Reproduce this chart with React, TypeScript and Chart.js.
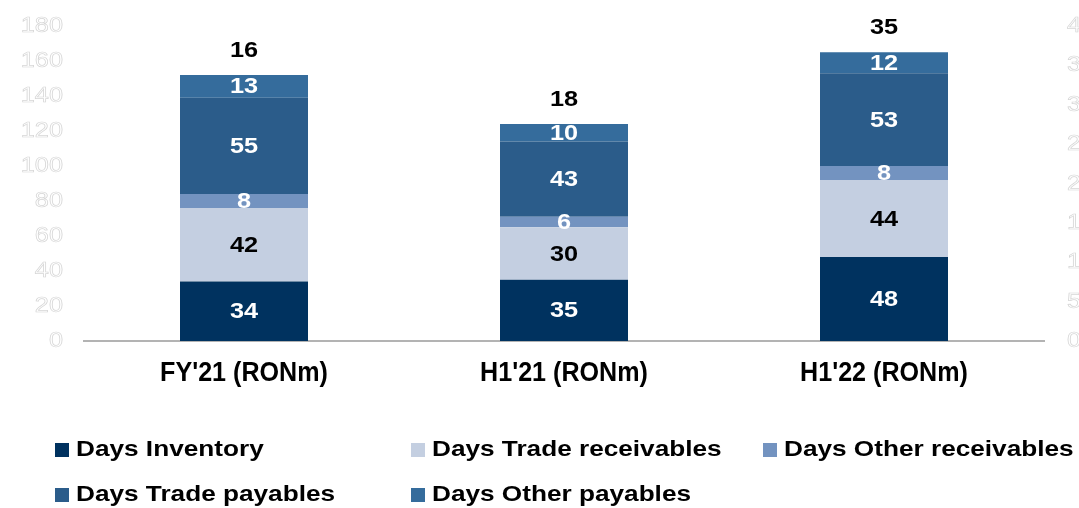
import React, { useEffect, useRef } from 'react';
import { Chart, registerables } from 'chart.js';

Chart.register(...registerables);

const categories = ["FY'21 (RONm)", "H1'21 (RONm)", "H1'22 (RONm)"];
const daysInventory = [34, 35, 48];
const daysTradeReceivables = [42, 30, 44];
const daysOtherReceivables = [8, 6, 8];
const daysTradePayables = [55, 43, 53];
const daysOtherPayables = [13, 10, 12];
const topLabels = [16, 18, 35];
const leftTicks = [0, 20, 40, 60, 80, 100, 120, 140, 160, 180];
const rightTicks = [0, 5, 10, 15, 20, 25, 30, 35, 40];

const seriesNames = [
  'Days Inventory',
  'Days Trade receivables',
  'Days Other receivables',
  'Days Trade payables',
  'Days Other payables',
];
const seriesData = [daysInventory, daysTradeReceivables, daysOtherReceivables, daysTradePayables, daysOtherPayables];
const seriesColors = ['#00325f', '#c4cfe1', '#7393c0', '#2b5c8a', '#356c9c'];
const labelColors = ['#ffffff', '#000000', '#ffffff', '#ffffff', '#ffffff'];

const FONT = "'Liberation Sans', Arial, Helvetica, sans-serif";

function drawText(
  ctx: CanvasRenderingContext2D,
  text: string,
  x: number,
  y: number,
  align: CanvasTextAlign,
  sx: number,
  stroke?: string
) {
  ctx.save();
  ctx.translate(x, y);
  ctx.scale(sx, 1);
  ctx.textAlign = align;
  ctx.textBaseline = 'middle';
  ctx.fillText(text, 0, 0);
  if (stroke) {
    ctx.strokeStyle = stroke;
    ctx.lineWidth = 0.7;
    ctx.strokeText(text, 0, 0);
  }
  ctx.restore();
}

const labelPlugin = {
  id: 'customLabels',
  afterDraw(chart: any) {
    const ctx: CanvasRenderingContext2D = chart.ctx;
    const y = chart.scales.y;
    const y1 = chart.scales.y1;
    const x = chart.scales.x;
    const area = chart.chartArea;

    // Axis tick labels (white with faint outline)
    ctx.font = `normal 22px ${FONT}`;
    ctx.fillStyle = '#ffffff';
    leftTicks.forEach((v) => {
      drawText(ctx, String(v), area.left - 21, y.getPixelForValue(v), 'right', 1.15, '#d6d6d6');
    });
    rightTicks.forEach((v) => {
      drawText(ctx, String(v), area.right + 23, y1.getPixelForValue(v), 'left', 1.15, '#d6d6d6');
    });

    // Segment labels
    ctx.font = `bold 22px ${FONT}`;
    seriesData.forEach((_, di) => {
      const meta = chart.getDatasetMeta(di);
      meta.data.forEach((el: any, i: number) => {
        const cy = (el.y + el.base) / 2;
        ctx.fillStyle = labelColors[di];
        drawText(ctx, String(seriesData[di][i]), el.x, cy + 1, 'center', 1.15);
      });
    });

    // Top labels
    const lastMeta = chart.getDatasetMeta(seriesData.length - 1);
    ctx.fillStyle = '#000000';
    lastMeta.data.forEach((el: any, i: number) => {
      drawText(ctx, String(topLabels[i]), el.x, el.y - 24, 'center', 1.15);
    });

    // Category labels
    ctx.font = `bold 27px ${FONT}`;
    ctx.fillStyle = '#000000';
    categories.forEach((c, i) => {
      drawText(ctx, c, x.getPixelForValue(i), 374, 'center', 0.93);
    });

    // Legend
    const colX = [55, 411, 763];
    const rowY = [450, 495];
    ctx.font = `bold 22px ${FONT}`;
    seriesNames.forEach((name, i) => {
      const col = i % 3;
      const row = Math.floor(i / 3);
      const bx = colX[col];
      const by = rowY[row];
      ctx.fillStyle = seriesColors[i];
      ctx.fillRect(bx, by - 7, 14, 14);
      ctx.fillStyle = '#000000';
      drawText(ctx, name, bx + 21, by, 'left', 1.19);
    });
  },
};

export default function App() {
  const canvasRef = useRef<HTMLCanvasElement | null>(null);

  useEffect(() => {
    if (!canvasRef.current) return;
    const chart = new Chart(canvasRef.current, {
      type: 'bar',
      data: {
        labels: categories,
        datasets: seriesData.map((d, i) => ({
          label: seriesNames[i],
          data: d,
          backgroundColor: seriesColors[i],
          borderWidth: 0,
          barPercentage: 0.4,
          categoryPercentage: 1.0,
          yAxisID: 'y',
        })),
      },
      options: {
        responsive: false,
        devicePixelRatio: 1,
        animation: false,
        layout: { padding: { top: 26, bottom: 0, left: 0, right: 0 } },
        plugins: {
          legend: { display: false },
          tooltip: { enabled: false },
          title: { display: false },
        },
        scales: {
          x: {
            stacked: true,
            grid: { display: false },
            border: { display: true, color: '#b3b3b3', width: 2 },
            ticks: { display: false },
            afterFit: (s: any) => {
              s.height = 167;
            },
          },
          y: {
            stacked: true,
            position: 'left',
            min: 0,
            max: 180,
            grid: { display: false },
            border: { display: false },
            ticks: { display: false, stepSize: 20 },
            afterFit: (s: any) => {
              s.width = 84;
            },
          },
          y1: {
            position: 'right',
            min: 0,
            max: 40,
            grid: { display: false },
            border: { display: false },
            ticks: { display: false, stepSize: 5 },
            afterFit: (s: any) => {
              s.width = 35;
            },
          },
        },
      },
      plugins: [labelPlugin],
    });
    return () => chart.destroy();
  }, []);

  return (
    <div style={{ position: 'fixed', left: 0, top: 0, width: 1079, height: 508, background: '#ffffff' }}>
      <canvas ref={canvasRef} width={1079} height={508} style={{ display: 'block' }} />
    </div>
  );
}
